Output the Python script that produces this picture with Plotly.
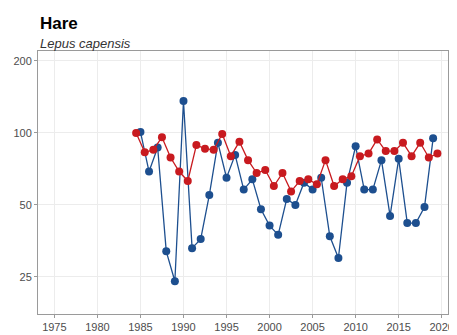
import plotly.graph_objects as go

# Blue series: yearly index, 1985-2019
blue_years = list(range(1985, 2020))
blue_values = [101, 69, 87, 32, 24, 136, 33, 36, 55, 91,
               65, 81, 58, 64, 48, 41, 37.5, 53, 50, 62,
               58, 65, 37, 30, 62, 88, 58, 58, 77, 45,
               78, 42, 42, 49, 95]

# Red series: yearly index, 1984-2019 (drawn half a year to the right)
red_years = list(range(1984, 2020))
red_values = [100, 83, 85, 96, 79, 69, 63, 89, 86, 85,
              99, 80, 92, 77, 68, 70, 60, 68, 57, 63,
              64, 61, 77, 60, 64, 66, 80, 82, 94, 84,
              84, 91, 80, 91, 79, 82]

x_ticks = list(range(1975, 2021, 5))
y_ticks = [25, 50, 100, 200]

BLUE = "#1d4f8f"
RED = "#c81a1f"

fig = go.Figure()

fig.add_trace(go.Scatter(
    x=blue_years, y=blue_values, mode="lines+markers", name="blue",
    line=dict(color=BLUE, width=1.3),
    marker=dict(color=BLUE, size=8),
))
fig.add_trace(go.Scatter(
    x=[y + 0.5 for y in red_years], y=red_values, mode="lines+markers", name="red",
    line=dict(color=RED, width=1.3),
    marker=dict(color=RED, size=8),
))

fig.add_annotation(text="<b>Hare</b>", xref="paper", yref="paper", x=0, y=1,
                   xanchor="left", yanchor="bottom", yshift=16, showarrow=False,
                   font=dict(family="Liberation Sans, Arial", size=17, color="black"))
fig.add_annotation(text="<i>Lepus capensis</i>", xref="paper", yref="paper", x=0, y=1,
                   xanchor="left", yanchor="bottom", yshift=-2, showarrow=False,
                   font=dict(family="Liberation Sans, Arial", size=13, color="#333333"))

axis_common = dict(
    showline=True, linecolor="#9a9a9a", linewidth=1, mirror=True,
    gridcolor="#ececec", gridwidth=1, zeroline=False, automargin=False,
    ticks="outside", ticklen=3, tickcolor="#9a9a9a",
    tickfont=dict(family="Liberation Sans, Arial", size=11, color="#4d4d4d"),
)

fig.update_xaxes(range=[1973.1, 2020.73], tickvals=x_ticks, **axis_common)
fig.update_yaxes(type="log", range=[1.2432, 2.3428], tickvals=y_ticks,
                 ticktext=[str(v) for v in y_ticks], **axis_common)

# page body keeps an 8 px margin, so the figure is 8 px smaller and shifted
fig.update_layout(
    width=449, height=327,
    margin=dict(l=30, r=9, t=43, b=21),
    paper_bgcolor="white", plot_bgcolor="white",
    showlegend=False,
)

fig.write_html("out.html")
